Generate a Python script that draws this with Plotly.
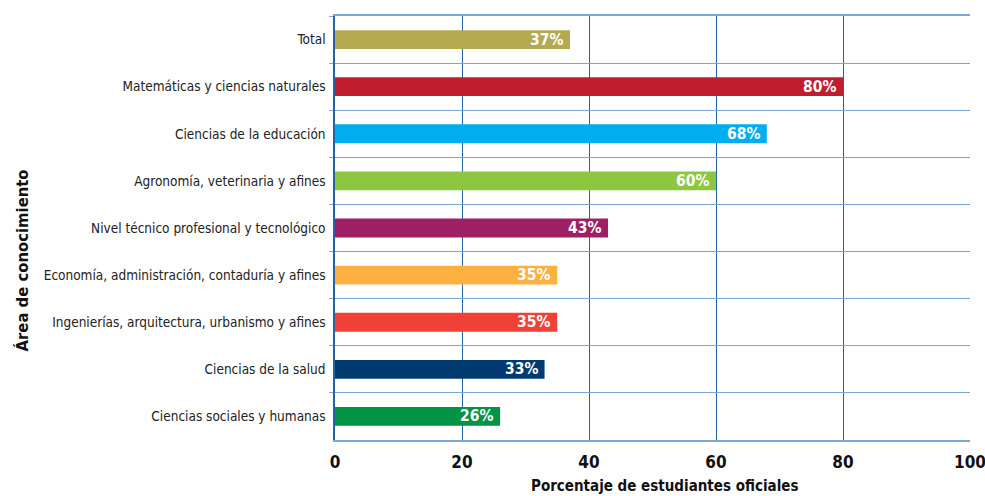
import plotly.graph_objects as go

# Share of official-sector students by knowledge area
areas = [
    "Total",
    "Matemáticas y ciencias naturales",
    "Ciencias de la educación",
    "Agronomía, veterinaria y afines",
    "Nivel técnico profesional y tecnológico",
    "Economía, administración, contaduría y afines",
    "Ingenierías, arquitectura, urbanismo y afines",
    "Ciencias de la salud",
    "Ciencias sociales y humanas",
]
values = [37, 80, 68, 60, 43, 35, 35, 33, 26]
colors = ["#b5a94f", "#be1e2d", "#00aeef", "#8dc63f", "#9e1f63",
          "#fbb040", "#ef4136", "#003a70", "#009444"]
x_ticks = [0, 20, 40, 60, 80, 100]

FONT = "DejaVu Sans Condensed, Liberation Sans Narrow, sans-serif"
DARK_BLUE = "#2463aa"
LIGHT_BLUE = "#7ba7d6"


def cfont(size, color="#111111", bold=False):
    return dict(family=FONT, size=size, color=color,
                weight="bold" if bold else "normal")


fig = go.Figure(
    go.Bar(
        x=values,
        y=areas,
        orientation="h",
        marker=dict(color=colors, line=dict(width=0)),
        width=0.4,
        hoverinfo="x+y",
    )
)

# value labels at the inner end of each bar
for area, v in zip(areas, values):
    fig.add_annotation(
        x=v, y=area, xref="x", yref="y",
        text=f"{v}%", showarrow=False,
        xanchor="right", yanchor="middle", xshift=-5,
        font=cfont(15.5, "white", bold=True),
    )

# axis titles
fig.add_annotation(
    x=-335 / 635, y=0.5, xref="paper", yref="paper",
    xshift=10, yshift=-33, text="Área de conocimiento", textangle=-90,
    showarrow=False, xanchor="left", yanchor="middle",
    font=cfont(16.5, bold=True),
)
fig.add_annotation(
    x=0.5, y=0, xref="paper", yref="paper", xshift=12, yshift=-35,
    text="Porcentaje de estudiantes oficiales", showarrow=False,
    xanchor="center", yanchor="top",
    font=cfont(15, bold=True),
)

fig.update_layout(
    width=985,
    height=496,
    margin=dict(l=335, r=15, t=16, b=56),
    plot_bgcolor="white",
    paper_bgcolor="white",
    showlegend=False,
    font=dict(family=FONT, color="#222222"),
)

fig.update_xaxes(
    range=[0, 100],
    tickvals=x_ticks,
    ticktext=[str(t) for t in x_ticks],
    showgrid=True,
    gridcolor=DARK_BLUE,
    gridwidth=1,
    zeroline=False,
    showline=True,
    linecolor=LIGHT_BLUE,
    linewidth=2,
    mirror=True,
    ticks="",
    automargin=False,
    ticklabeloverflow="allow",
    ticklabelstandoff=6,
    tickfont=cfont(17, bold=True),
)

fig.update_yaxes(
    categoryorder="array",
    categoryarray=areas,
    autorange="reversed",
    tickson="boundaries",
    showgrid=True,
    gridcolor=LIGHT_BLUE,
    gridwidth=1,
    ticks="outside",
    ticklen=4,
    tickcolor=LIGHT_BLUE,
    showline=True,
    linecolor=DARK_BLUE,
    linewidth=1.5,
    automargin=False,
    ticklabelstandoff=5,
    tickfont=cfont(13.5, "#222222"),
)

fig.write_html("out.html")
